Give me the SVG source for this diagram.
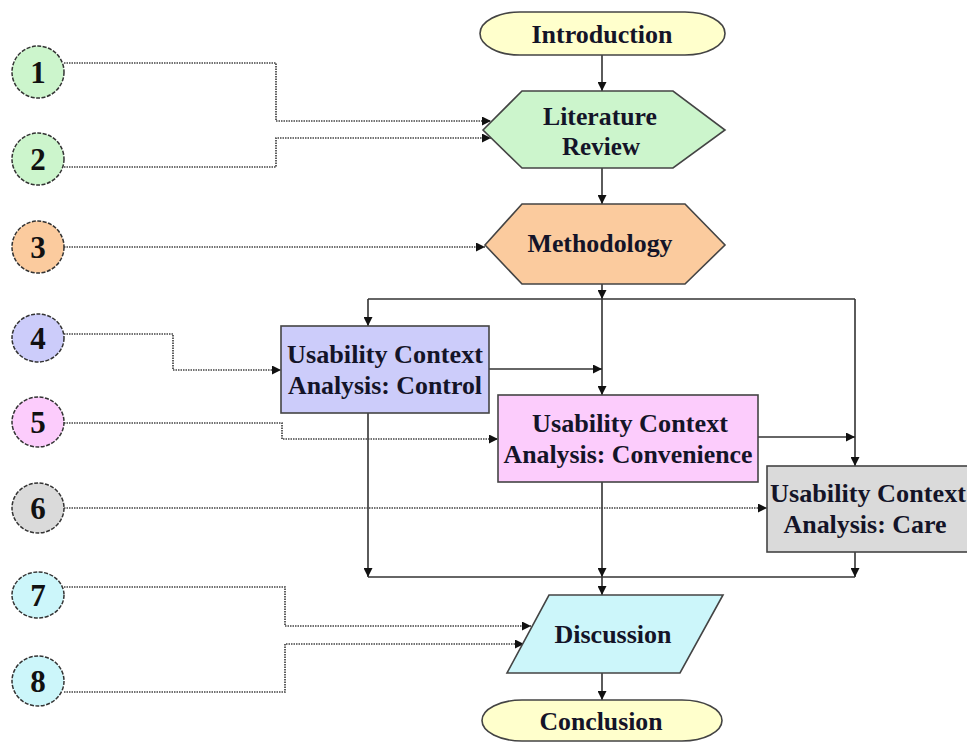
<svg xmlns="http://www.w3.org/2000/svg" width="967" height="744" viewBox="0 0 967 744">
<defs>
<marker id="ah" viewBox="0 0 10 10" refX="10" refY="5" markerWidth="10" markerHeight="9" markerUnits="userSpaceOnUse" orient="auto">
<path d="M0,0 L10,5 L0,10 Z" fill="#111"/>
</marker>
<style>
.lbl{font-family:"Liberation Serif","Times New Roman",serif;font-weight:bold;font-size:25px;fill:#141428;text-anchor:middle}
.num{font-family:"Liberation Serif","Times New Roman",serif;font-weight:bold;font-size:31px;fill:#111;text-anchor:middle}
.shape{stroke:#444;stroke-width:1.6}
.circ{stroke:#333;stroke-width:1.5;stroke-dasharray:4 1.5}
.solid{fill:none;stroke:#333;stroke-width:1.6;marker-end:url(#ah)}
.plain{fill:none;stroke:#333;stroke-width:1.6}
.dot{fill:none;stroke:#444;stroke-width:1.7;stroke-dasharray:1.5 1;marker-end:url(#ah)}
</style>
</defs>
<rect width="967" height="744" fill="#fff"/>

<g id="connectors">
<path class="solid" d="M602,55 V91"/>
<path class="solid" d="M602,168 V204"/>
<path class="solid" d="M602,284 V299"/>
<path class="plain" d="M368,299 H855"/>
<path class="solid" d="M368,299 V326"/>
<path class="solid" d="M602,299 V395"/>
<path class="solid" d="M855,299 V466"/>
<path class="solid" d="M489,369 H602"/>
<path class="solid" d="M758,437 H855"/>
<path class="solid" d="M368,413 V577"/>
<path class="solid" d="M602,482 V577"/>
<path class="solid" d="M855,552 V577"/>
<path class="plain" d="M368,577 H855"/>
<path class="solid" d="M602,577 V595"/>
<path class="solid" d="M602,673 V700"/>
<path class="dot" d="M64,63 H276 V121 H491"/>
<path class="dot" d="M64,167 H276 V138 H491"/>
<path class="dot" d="M64,247 H485"/>
<path class="dot" d="M64,334 H173 V370 H281"/>
<path class="dot" d="M64,423 H282 V439 H498"/>
<path class="dot" d="M64,508 H767"/>
<path class="dot" d="M64,587 H285 V626 H531"/>
<path class="dot" d="M64,692 H285 V644 H524"/>
</g>

<g id="n1"><ellipse class="circ" cx="38" cy="72" rx="26" ry="26" fill="#ccf5cc"/><text class="num" x="38" y="83">1</text></g>
<g id="n2"><ellipse class="circ" cx="38" cy="159" rx="26" ry="26" fill="#ccf5cc"/><text class="num" x="38" y="170">2</text></g>
<g id="n3"><ellipse class="circ" cx="38" cy="247" rx="26" ry="26" fill="#fbcb9e"/><text class="num" x="38" y="258">3</text></g>
<g id="n4"><ellipse class="circ" cx="38" cy="338" rx="26" ry="24" fill="#ccccfa"/><text class="num" x="38" y="349">4</text></g>
<g id="n5"><ellipse class="circ" cx="38" cy="422" rx="26" ry="25" fill="#fcccfc"/><text class="num" x="38" y="433">5</text></g>
<g id="n6"><ellipse class="circ" cx="38" cy="508" rx="26" ry="25" fill="#dadada"/><text class="num" x="38" y="519">6</text></g>
<g id="n7"><ellipse class="circ" cx="38" cy="595" rx="26" ry="23" fill="#ccf6fa"/><text class="num" x="38" y="606">7</text></g>
<g id="n8"><ellipse class="circ" cx="38" cy="681" rx="26" ry="25" fill="#ccf6fa"/><text class="num" x="38" y="692">8</text></g>

<g id="introduction"><rect class="shape" x="480" y="12" width="245" height="43" rx="40" ry="21.5" fill="#ffffcc"/><text class="lbl" x="602" y="43" textLength="141" lengthAdjust="spacingAndGlyphs">Introduction</text></g>
<g id="literature"><polygon class="shape" points="483,130 522,91 673,91 725,130 673,168 522,168" fill="#ccf5cc"/><text class="lbl" x="600" y="125" textLength="114" lengthAdjust="spacingAndGlyphs">Literature</text><text class="lbl" x="601" y="155" textLength="78" lengthAdjust="spacingAndGlyphs">Review</text></g>
<g id="methodology"><polygon class="shape" points="485,245 522,204 685,204 725,245 685,284 522,284" fill="#fbcb9e"/><text class="lbl" x="600" y="252" textLength="145" lengthAdjust="spacingAndGlyphs">Methodology</text></g>
<g id="control"><rect class="shape" x="281" y="326" width="208" height="87" fill="#ccccfa"/><text class="lbl" x="385" y="363" textLength="196" lengthAdjust="spacingAndGlyphs">Usability Context</text><text class="lbl" x="385" y="394" textLength="194" lengthAdjust="spacingAndGlyphs">Analysis: Control</text></g>
<g id="convenience"><rect class="shape" x="498" y="395" width="260" height="87" fill="#fcccfc"/><text class="lbl" x="630" y="432" textLength="196" lengthAdjust="spacingAndGlyphs">Usability Context</text><text class="lbl" x="628" y="463" textLength="249" lengthAdjust="spacingAndGlyphs">Analysis: Convenience</text></g>
<g id="care"><rect class="shape" x="767" y="466" width="202" height="86" fill="#dadada"/><text class="lbl" x="868" y="502" textLength="196" lengthAdjust="spacingAndGlyphs">Usability Context</text><text class="lbl" x="865" y="533" textLength="163" lengthAdjust="spacingAndGlyphs">Analysis: Care</text></g>
<g id="discussion"><polygon class="shape" points="549,595 723,595 680,673 507,673" fill="#ccf6fa"/><text class="lbl" x="613" y="643" textLength="117" lengthAdjust="spacingAndGlyphs">Discussion</text></g>
<g id="conclusion"><rect class="shape" x="482" y="700" width="240" height="41" rx="40" ry="20.5" fill="#ffffcc"/><text class="lbl" x="601" y="730" textLength="123" lengthAdjust="spacingAndGlyphs">Conclusion</text></g>
</svg>
